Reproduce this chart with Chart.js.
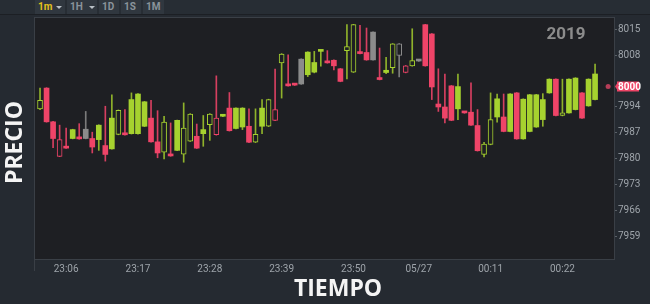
<!DOCTYPE html>
<html><head><meta charset="utf-8">
<script src="https://cdn.jsdelivr.net/npm/chart.js@4"></script>
<style>
html,body{margin:0;padding:0;background:#252a31;width:650px;height:304px;overflow:hidden}
#wrap{position:relative;width:650px;height:304px}
canvas{position:absolute;left:0;top:0}
#bar{position:absolute;left:0;top:0;width:650px;height:14px;background:#272d34;border-bottom:1px solid #1c1f24;z-index:2}
.btn{position:absolute;top:0;height:14px;background:#30373f;color:#8a939b;font:bold 10px Roboto,sans-serif;line-height:14px;box-sizing:border-box;padding-left:3px}
.btn.on{color:#e5c21b}
.arr{position:absolute;top:6px;width:0;height:0;border-left:3px solid transparent;border-right:3px solid transparent;border-top:3px solid #b9c0c6}
</style></head>
<body><div id="wrap">
<canvas id="c" width="650" height="304"></canvas>
<div id="bar">
 <div class="btn on" style="left:35px;width:30px">1m<span class="arr" style="left:21px"></span></div>
 <div class="btn" style="left:67px;width:30px">1H<span class="arr" style="left:22px"></span></div>
 <div class="btn" style="left:99px;width:20px">1D</div>
 <div class="btn" style="left:121px;width:20px">1S</div>
 <div class="btn" style="left:143px;width:21px">1M</div>
</div>
</div>
<script>
const times = ['23:02','23:03','23:04','23:05','23:06','23:07','23:08','23:09','23:10','23:11','23:12','23:13','23:14','23:15','23:16','23:17','23:18','23:19','23:20','23:21','23:22','23:23','23:24','23:25','23:26','23:27','23:28','23:29','23:30','23:31','23:32','23:33','23:34','23:35','23:36','23:37','23:38','23:39','23:40','23:41','23:42','23:43','23:44','23:45','23:46','23:47','23:48','23:49','23:50','23:51','23:52','23:53','23:54','23:55','23:56','23:57','23:58','23:59','00:00','00:01','00:02','00:03','00:04','00:05','00:06','00:07','00:08','00:09','00:10','00:11','00:12','00:13','00:14','00:15','00:16','00:17','00:18','00:19','00:20','00:21','00:22','00:23','00:24','00:25','00:26','00:27'];
const openP  = [7993.5,7999.1,7990.0,7985.2,7983.4,7985.5,7985.6,7985.5,7985.5,7985.2,7983.6,7982.7,7986.6,7986.7,7986.8,7986.8,7988.8,7991.0,7984.6,7981.8,7981.0,7982.3,7981.3,7984.8,7986.1,7986.8,7989.2,7991.0,7991.5,7993.7,7988.2,7988.6,7988.8,7984.5,7988.8,7988.8,7993.3,8005.9,7999.9,8000.1,8000.2,8002.7,8003.4,8009.0,8006.4,8006.6,8004.3,8009.2,8003.4,8008.6,8008.7,8006.7,8001.6,8003.3,8004.6,8007.9,8005.1,8005.1,8006.6,8016.2,8013.7,7994.8,7994.0,7999.7,7993.5,7992.6,7992.6,7989.0,7981.2,7983.9,7991.3,7991.3,7987.4,7997.8,7985.4,7987.4,7988.6,7990.6,7997.8,8001.5,7991.7,7992.4,7993.3,7997.8,7994.3,7996.0];
const highP  = [7999.1,7999.2,7990.1,7989.1,7988.3,7988.0,7989.5,7992.8,7987.2,7989.2,7994.2,7997.3,7993.2,7993.3,7997.8,7997.6,7995.5,7995.8,7993.0,7991.5,7989.7,7990.5,7995.1,7992.2,7989.4,7991.7,7992.2,8002.4,7992.0,7997.9,7993.8,7993.8,7993.5,7993.5,7996.0,7996.1,8004.2,8008.4,8008.1,8000.2,8007.0,8008.9,8009.0,8009.4,8009.2,8006.7,8004.4,8016.2,8016.3,8016.0,8015.3,8014.3,8009.9,8007.4,8011.1,8011.1,8005.2,8015.1,8006.7,8016.3,8013.8,8004.3,8002.9,7999.8,8002.9,7992.7,8000.5,7993.3,7984.5,7997.8,7997.5,7997.5,7997.6,7997.9,7996.2,7997.4,7997.4,7997.6,8001.6,8001.6,8001.5,8001.6,8001.9,7997.9,8001.6,8005.6];
const lowP   = [7993.3,7989.9,7983.0,7980.6,7982.8,7985.4,7985.3,7985.4,7981.6,7982.3,7979.4,7982.6,7986.5,7986.4,7986.7,7986.7,7988.7,7984.5,7980.3,7980.0,7980.7,7982.2,7979.1,7984.7,7982.8,7983.4,7985.0,7986.4,7991.4,7987.5,7988.1,7987.9,7984.4,7984.4,7986.8,7988.7,7990.3,7996.4,7999.6,7999.8,8000.1,8002.2,8003.2,8005.0,8005.8,8004.0,8000.8,8001.6,8003.3,8008.3,8006.6,8006.6,8001.3,8003.0,8003.1,8002.1,8003.2,8005.0,8006.3,8005.0,7996.0,7992.8,7989.7,7990.3,7990.6,7992.3,7989.0,7982.1,7980.5,7983.8,7989.9,7987.3,7987.3,7985.3,7985.3,7987.3,7988.5,7988.8,7997.7,7991.6,7991.6,7992.3,7993.2,7990.9,7994.2,7995.9];
const closeP = [7995.8,7990.0,7985.5,7980.7,7982.9,7987.9,7985.4,7988.0,7983.2,7989.1,7981.2,7991.0,7993.1,7986.5,7996.0,7997.5,7995.4,7984.6,7981.6,7989.9,7980.8,7990.4,7988.3,7992.1,7982.9,7987.9,7992.1,7986.5,7991.9,7987.6,7993.7,7993.7,7984.5,7986.6,7993.7,7996.0,7990.4,8008.3,7999.7,7999.9,8006.9,8008.8,8006.0,8009.3,8005.9,8005.1,8000.9,8010.3,8016.2,8008.4,8006.7,8014.2,8001.4,8003.9,8011.0,8011.0,8003.3,8006.5,8006.4,8005.1,7999.4,7994.0,7991.0,7990.4,7999.5,7992.4,7989.1,7982.2,7984.0,7990.6,7996.2,7987.4,7997.5,7985.4,7996.1,7997.3,7997.3,7996.0,8001.5,7991.7,7992.4,8001.5,8001.8,7991.0,8001.5,8002.9];
// candle kind: f = filled, h = hollow, g = neutral filled, gh = neutral hollow
const kind = ['h','f','f','h','f','f','f','g','f','f','f','f','h','f','f','f','f','f','f','h','f','f','h','h','f','f','h','h','f','f','f','f','f','h','f','h','h','h','f','f','g','f','f','f','f','f','f','h','h','f','f','g','f','f','h','gh','h','h','g','f','f','f','f','f','f','f','f','f','h','h','f','f','f','f','f','f','f','f','f','f','h','f','f','f','f','f'];
const yTicks = [7959,7966,7973,7980,7987,7994,8008,8015];
const tickTimes  = ['23:06','23:17','23:28','23:39','23:50','00:00','00:11','00:22'];
const tickLabels = ['23:06','23:17','23:28','23:39','23:50','05/27','00:11','00:22'];
const lastPrice = 7999.5;
const lastIndex = 87;
const yearLabel = '2019';
const xTitle = 'TIEMPO', yTitle = 'PRECIO';

const GREEN='#a6d22f', RED='#ef4468', GRAY='#8b8b8b', PLOT='#1e1f23';
const WICK={up:'#8fb22b', down:'#d63f60', n:'#7b7b7b'};
function dir(i){ if (kind[i][0]==='g') return 'n'; return closeP[i]>=openP[i]?'up':'down'; }
function col(i){ const d=dir(i); return d==='n'?GRAY:(d==='up'?GREEN:RED); }
const bodies = openP.map((o,i)=>({x:i, y:[o, closeP[i]]}));
const wicks = lowP.map((l,i)=>({x:i, y:[l, highP[i]]}));

const deco = {
  id:'deco',
  beforeDatasetsDraw(chart){
    const {ctx, chartArea:a} = chart;
    ctx.save();
    ctx.fillStyle = PLOT;
    ctx.fillRect(a.left, a.top, a.right-a.left, a.bottom-a.top);
    ctx.strokeStyle = '#3a3f46'; ctx.lineWidth = 1;
    ctx.strokeRect(a.left-0.5, a.top-0.5, a.right-a.left+1, a.bottom-a.top+1);
    ctx.beginPath(); ctx.moveTo(a.left-0.5, a.bottom); ctx.lineTo(a.left-0.5, a.bottom+12); ctx.stroke();
    ctx.fillStyle = '#8c8c8c';
    ctx.font = 'bold 17px Roboto, sans-serif';
    ctx.textAlign = 'center'; ctx.textBaseline = 'middle';
    ctx.fillText(yearLabel, a.right-48, a.top+17);
    ctx.restore();
  },
  afterDraw(chart){
    const {ctx, chartArea:a, scales} = chart;
    const y = scales.y.getPixelForValue(lastPrice);
    ctx.save();
    ctx.fillStyle = '#ee4466';
    ctx.beginPath();
    ctx.moveTo(a.right+1, y);
    ctx.lineTo(a.right+3, y-3);
    ctx.lineTo(a.right+3, y-5);
    ctx.lineTo(a.right+25, y-5);
    ctx.lineTo(a.right+25, y+5);
    ctx.lineTo(a.right+3, y+5);
    ctx.lineTo(a.right+3, y+3);
    ctx.closePath(); ctx.fill();
    ctx.fillStyle = '#ffffff';
    ctx.font = 'bold 10px Roboto, sans-serif';
    ctx.textAlign = 'left'; ctx.textBaseline = 'middle';
    ctx.fillText(String(Math.round(lastPrice)), a.right+4, y+0.5);
    // axis titles
    ctx.fillStyle = '#f4f4f4';
    ctx.font = 'bold 23px "Open Sans", sans-serif';
    ctx.textAlign = 'center';
    ctx.fillText(xTitle, 338, 289);
    ctx.translate(15, 142.5); ctx.rotate(-Math.PI/2);
    ctx.fillText(yTitle, 0, 0);
    ctx.restore();
  }
};

new Chart(document.getElementById('c'), {
  type:'bar',
  data:{datasets:[
    {type:'scatter', data:[{x:lastIndex, y:lastPrice}], xAxisID:'x', yAxisID:'y', pointRadius:2.5, pointBackgroundColor:'#b63d58', pointBorderWidth:0, order:0},
    {data:bodies, xAxisID:'x', yAxisID:'y', grouped:false, barThickness:5, minBarLength:2, borderSkipped:false,
      backgroundColor:c=>kind[c.dataIndex].includes('h')?PLOT:col(c.dataIndex),
      borderColor:c=>col(c.dataIndex),
      borderWidth:c=>kind[c.dataIndex].includes('h')?1:0, order:1},
    {data:wicks, xAxisID:'x', yAxisID:'y', grouped:false, barThickness:1, borderWidth:0,
      backgroundColor:c=>WICK[dir(c.dataIndex)], order:2}
  ]},
  options:{
    responsive:false, animation:false, devicePixelRatio:1,
    layout:{padding:{top:18,left:35,right:0,bottom:0}},
    plugins:{legend:{display:false}, tooltip:{enabled:false}},
    scales:{
      x:{type:'linear', min:-0.77, max:87.9, offset:false,
        grid:{display:false, drawTicks:false}, border:{display:false},
        afterBuildTicks:s=>{ s.ticks = tickTimes.map(t=>({value:times.indexOf(t)})); },
        afterFit:s=>{ s.height = 45; },
        ticks:{autoSkip:false, maxRotation:0, padding:4, color:'#9ea4aa', font:{family:'Roboto', size:10},
          callback:v=>{ const k = tickTimes.indexOf(times[v]); return k>=0 ? tickLabels[k] : ''; }}},
      y:{type:'linear', position:'right', min:7953, max:8018,
        grid:{display:true, drawOnChartArea:false, drawTicks:true, tickLength:3, color:'#5a6067'}, border:{display:false},
        afterBuildTicks:s=>{ s.ticks = yTicks.map(v=>({value:v})); },
        afterFit:s=>{ s.width = 36; },
        ticks:{padding:1, color:'#9ea4aa', font:{family:'Roboto', size:10}, callback:v=>String(v)}}
    }
  },
  plugins:[deco]
});
</script>
</body></html>
